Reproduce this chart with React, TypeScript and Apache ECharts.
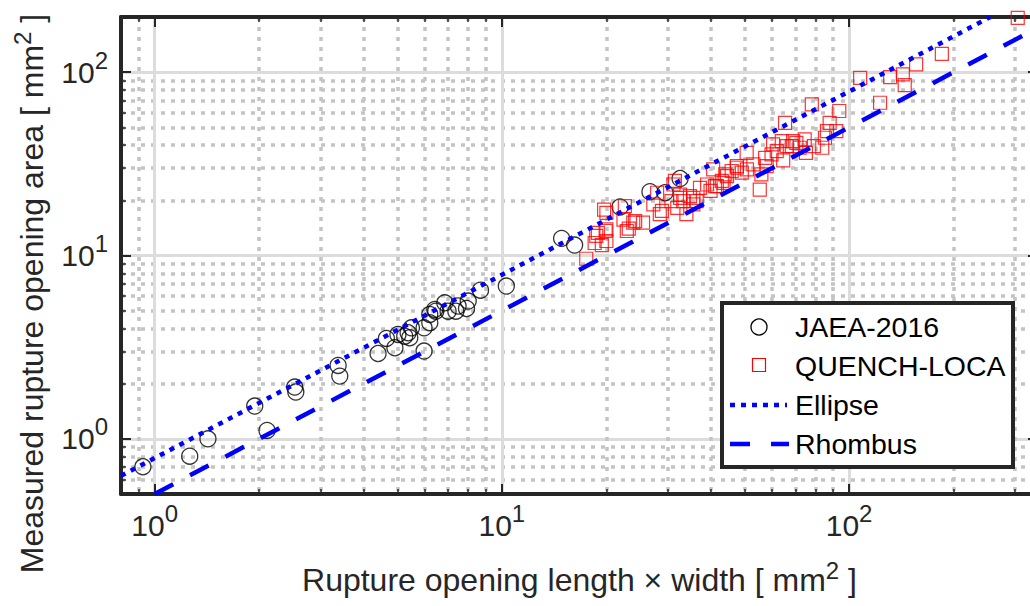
import { useEffect, useRef } from "react";
import * as echarts from "echarts";

const FONT = "'Liberation Sans', Arial, Helvetica, sans-serif";
const TXT = "#262626";

const seriesNames = ["JAEA-2016", "QUENCH-LOCA", "Ellipse", "Rhombus"];

// JAEA-2016: [length x width, measured area] (mm^2)
const jaeaPoints: number[][] = [
  [0.925, 0.704], [1.262, 0.804], [1.424, 1.0], [1.942, 1.508], [2.107, 1.111],
  [2.532, 1.915], [2.55, 1.8], [3.376, 2.514], [3.413, 2.198], [4.4, 2.92],
  [4.65, 3.53], [4.92, 3.14], [5.02, 3.71], [5.25, 3.63], [5.37, 3.79],
  [5.43, 3.56], [5.49, 4.03], [5.97, 3.01], [5.97, 4.03], [6.2, 4.3],
  [6.2, 4.77], [6.41, 5.08], [6.45, 4.97], [6.85, 5.52], [7.0, 4.97],
  [7.37, 4.97], [7.48, 5.3], [7.91, 5.14], [8.0, 5.64], [8.68, 6.47],
  [10.3, 6.81], [14.86, 12.4], [16.2, 11.4], [21.9, 18.4], [26.7, 22.3],
  [29.5, 22.0], [32.6, 26.3],
];

// QUENCH-LOCA
const quenchPoints: number[][] = [
  [17.5, 9.6], [18.7, 12.8], [19.9, 13.6], [18.5, 11.7], [19.4, 11.4],
  [20.0, 12.0], [19.7, 17.8], [22.6, 18.6], [22.4, 15.7], [22.9, 13.6],
  [23.9, 15.1], [25.5, 15.1], [27.3, 19.0], [28.0, 22.0], [28.5, 16.8],
  [32.6, 20.6], [18.9, 13.3], [20.0, 13.9], [20.0, 17.1], [24.2, 15.4],
  [23.2, 14.0], [28.9, 17.5], [30.8, 19.8], [31.2, 24.4], [32.0, 18.2],
  [32.6, 21.5], [33.3, 19.8], [34.0, 16.8], [34.8, 21.1], [35.6, 19.0],
  [36.4, 19.8], [37.2, 23.4], [39.0, 24.4], [39.9, 22.5], [41.6, 23.9],
  [43.5, 24.9], [45.9, 28.9], [47.5, 30.7], [44.0, 27.7], [31.5, 25.5],
  [35.6, 20.6], [40.6, 29.5], [41.1, 23.9], [43.0, 25.5], [44.5, 27.1],
  [47.5, 30.1], [49.1, 28.3], [50.8, 29.5], [50.7, 36.3], [53.0, 31.4],
  [55.3, 22.9], [55.9, 27.7], [57.3, 34.1], [57.9, 30.7], [59.8, 35.6],
  [60.4, 40.4], [61.9, 37.1], [64.0, 42.1], [64.6, 33.0], [65.4, 52.9],
  [66.1, 39.5], [68.4, 39.5], [69.0, 42.1], [70.5, 41.2], [72.1, 38.7],
  [74.5, 43.0], [75.1, 36.3], [78.1, 66.7], [79.2, 39.5], [83.7, 38.7],
  [85.2, 43.9], [86.3, 47.7], [87.9, 52.9], [91.9, 47.7], [93.7, 61.4],
  [107.6, 93.2], [122.8, 68.1], [131.3, 94.0], [142.8, 97.3], [144.6, 85.1],
  [156, 110.3], [185, 126], [306, 198],
];

// Model lines (end points)
const ellipseLine: number[][] = [[0.8, 0.628], [255, 200]];
const rhombusLine: number[][] = [[1, 0.5], [350, 175]];

const xRange = [0.8, 350];
const yRange = [0.5, 200];
const xTickValues = [1, 10, 100];
const xTickExps = ["0", "1", "2"];
const yTickValues = [1, 10, 100];
const yTickExps = ["0", "1", "2"];

const xTitle = ["Rupture opening length × width [ mm", "2", " ]"];
const yTitle = ["Measured rupture opening area [ mm", "2", " ]"];

const tickRich = {
  b: { fontSize: 30, lineHeight: 30, verticalAlign: "bottom", color: TXT, fontFamily: FONT },
  s: { fontSize: 24, lineHeight: 24, padding: [0, 0, 15, 0], verticalAlign: "bottom", color: TXT, fontFamily: FONT },
};
const nameRich = {
  a: { fontSize: 32, lineHeight: 32, verticalAlign: "bottom", color: TXT, fontFamily: FONT },
  s: { fontSize: 24, lineHeight: 24, padding: [0, 0, 14, 0], verticalAlign: "bottom", color: TXT, fontFamily: FONT },
};

function tickFormatter(values: number[], exps: string[]) {
  return (v: number) => {
    const i = values.findIndex((t) => Math.abs(t - v) / t < 1e-6);
    return i < 0 ? "" : `{b|10}{s|${exps[i]}}`;
  };
}

function baseAxis(range: number[]) {
  return {
    type: "log",
    logBase: 10,
    min: range[0],
    max: range[1],
    axisLine: { show: true, onZero: false, lineStyle: { color: TXT, width: 4 } },
    axisTick: { show: true, inside: true, length: 10, lineStyle: { color: TXT, width: 2 } },
    minorTick: { show: true, splitNumber: 9, length: 5, lineStyle: { color: TXT, width: 1.5 } },
  };
}

export default function App() {
  const ref = useRef<HTMLDivElement>(null);
  useEffect(() => {
    if (!ref.current) return;
    const chart = echarts.init(ref.current, null, { renderer: "svg" });
    const majorSplit = { show: true, lineStyle: { color: "#dcdcdc", width: 3, type: "solid" } };
    const minorSplit = { show: true, lineStyle: { color: "#c4c4c4", width: 3.5, type: [4, 6] } };
    chart.setOption({
      animation: false,
      backgroundColor: "#ffffff",
      textStyle: { fontFamily: FONT },
      grid: { left: 121, top: 17, width: 917, height: 477, containLabel: false },
      xAxis: [
        {
          ...baseAxis(xRange),
          position: "bottom",
          splitLine: majorSplit,
          minorSplitLine: minorSplit,
          axisLabel: {
            show: true,
            margin: 16,
            showMinLabel: false,
            showMaxLabel: false,
            formatter: tickFormatter(xTickValues, xTickExps),
            rich: tickRich,
          },
          name: `{a|${xTitle[0]}}{s|${xTitle[1]}}{a|${xTitle[2]}}`,
          nameLocation: "middle",
          nameGap: 70,
          nameTextStyle: { rich: nameRich },
        },
        {
          ...baseAxis(xRange),
          position: "top",
          axisLabel: { show: false },
          splitLine: { show: false },
        },
      ],
      yAxis: [
        {
          ...baseAxis(yRange),
          position: "left",
          splitLine: majorSplit,
          minorSplitLine: minorSplit,
          axisLabel: {
            show: true,
            margin: 13,
            showMinLabel: false,
            showMaxLabel: false,
            formatter: tickFormatter(yTickValues, yTickExps),
            rich: tickRich,
          },
          name: `{a|${yTitle[0]}}{s|${yTitle[1]}}{a|${yTitle[2]}}`,
          nameLocation: "middle",
          nameGap: 73,
          nameTextStyle: { rich: nameRich, padding: [0, 76, 0, 0] },
        },
        {
          ...baseAxis(yRange),
          position: "right",
          axisLabel: { show: false },
          splitLine: { show: false },
        },
      ],
      series: [
        {
          name: seriesNames[0],
          type: "scatter",
          data: jaeaPoints,
          symbol: "circle",
          symbolSize: 16,
          silent: true,
          itemStyle: { color: "rgba(0,0,0,0)", borderColor: "#000000", borderWidth: 1.3 },
        },
        {
          name: seriesNames[1],
          type: "scatter",
          data: quenchPoints,
          symbol: "rect",
          symbolSize: 13,
          silent: true,
          itemStyle: { color: "rgba(0,0,0,0)", borderColor: "#ff0000", borderWidth: 1.2 },
        },
        {
          name: seriesNames[2],
          type: "line",
          data: ellipseLine,
          symbol: "none",
          silent: true,
          clip: true,
          lineStyle: { color: "#0000ff", width: 4.5, type: [5, 6], cap: "butt" },
        },
        {
          name: seriesNames[3],
          type: "line",
          data: rhombusLine,
          symbol: "none",
          silent: true,
          clip: true,
          lineStyle: { color: "#0000ff", width: 4.5, type: [21, 19], cap: "butt" },
        },
      ],
      graphic: [
        {
          type: "rect",
          z: 100,
          shape: { x: 722, y: 303, width: 291, height: 164 },
          style: { fill: "#ffffff", stroke: TXT, lineWidth: 4 },
        },
        {
          type: "circle",
          z: 101,
          shape: { cx: 759, cy: 327, r: 8 },
          style: { fill: "none", stroke: "#000000", lineWidth: 1.3 },
        },
        {
          type: "rect",
          z: 101,
          shape: { x: 752.5, y: 358.5, width: 13, height: 13 },
          style: { fill: "none", stroke: "#ff0000", lineWidth: 1.2 },
        },
        {
          type: "line",
          z: 101,
          shape: { x1: 730, y1: 405, x2: 787, y2: 405 },
          style: { stroke: "#0000ff", lineWidth: 4.5, lineDash: [5, 6] },
        },
        {
          type: "line",
          z: 101,
          shape: { x1: 730, y1: 444, x2: 789, y2: 444 },
          style: { stroke: "#0000ff", lineWidth: 4.5, lineDash: [20, 21] },
        },
        ...seriesNames.map((n, i) => ({
          type: "text",
          z: 101,
          x: 795,
          y: [327, 366, 405, 444][i],
          style: {
            text: n,
            fill: "#000000",
            font: `28.5px ${FONT}`,
            textVerticalAlign: "middle",
            verticalAlign: "middle",
            align: "left",
          },
        })),
      ],
    });
    return () => chart.dispose();
  }, []);
  return (
    <div
      style={{
        position: "fixed",
        left: 0,
        top: 0,
        width: 1030,
        height: 606,
        overflow: "hidden",
        background: "#fff",
      }}
    >
      <div ref={ref} style={{ width: 1060, height: 606 }} />
    </div>
  );
}
